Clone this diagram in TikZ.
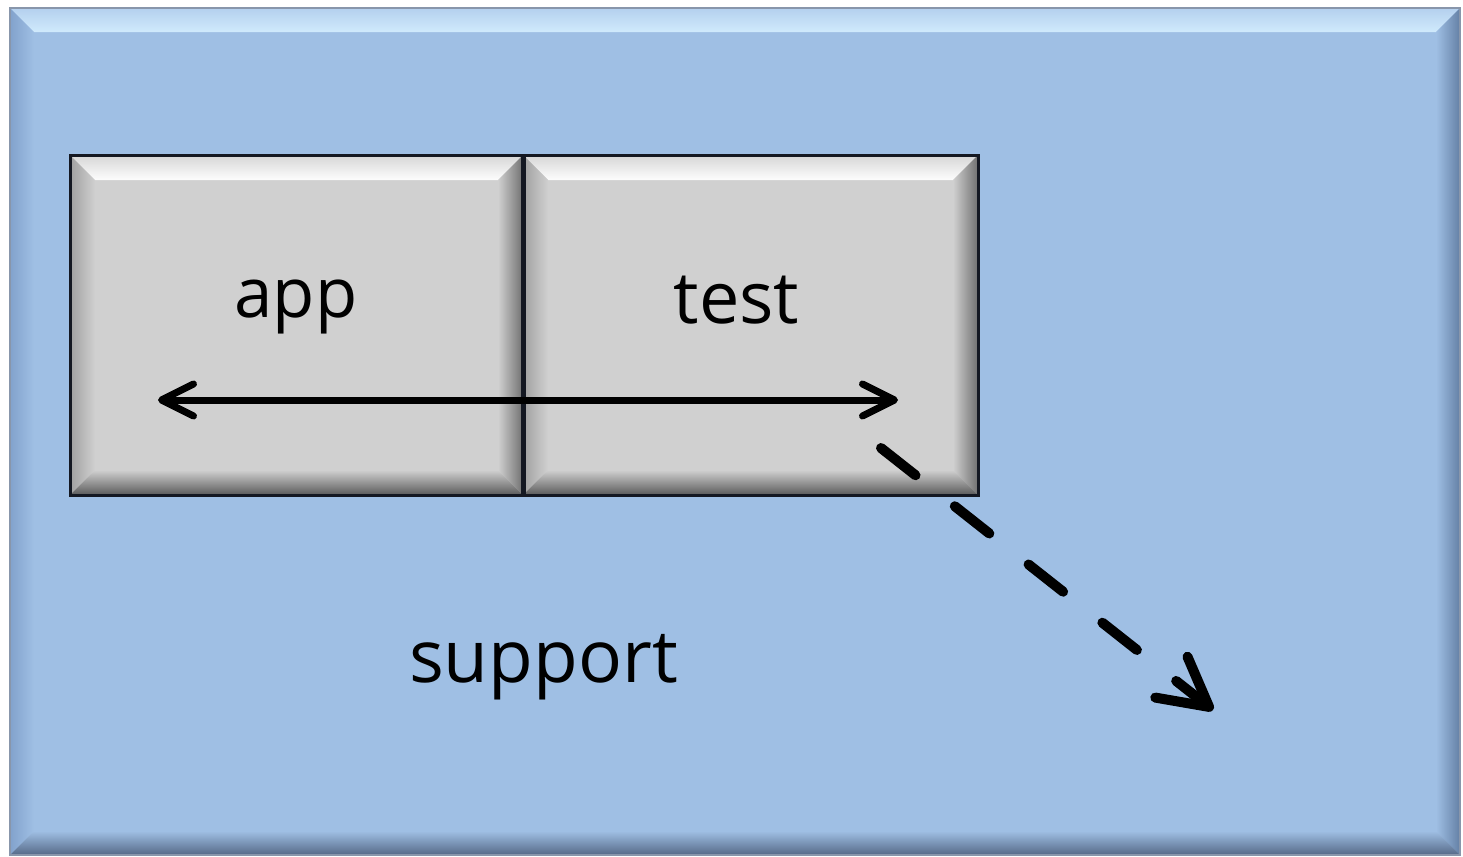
\documentclass[tikz,border=0pt]{standalone}
\usepackage{fontspec}
\setmainfont{Open Sans}
\usetikzlibrary{arrows.meta}
\definecolor{bBase}{RGB}{159,191,228}
\definecolor{bTopO}{RGB}{180,208,238}
\definecolor{bTopI}{RGB}{208,234,252}
\definecolor{bLeftO}{RGB}{130,162,204}
\definecolor{bRightO}{RGB}{100,128,165}
\definecolor{bBotO}{RGB}{85,105,135}
\definecolor{gBase}{RGB}{208,208,208}
\definecolor{gTopO}{RGB}{214,214,214}
\definecolor{gTopI}{RGB}{253,253,253}
\definecolor{gLeftO}{RGB}{160,160,160}
\definecolor{gRightO}{RGB}{112,112,112}
\definecolor{gBotO}{RGB}{90,90,90}
\definecolor{edge}{RGB}{20,24,34}
\newcommand\mybevel[6]{%
  \shade[top color=#6TopO,bottom color=#6TopI] (#1,#2) -- (#3,#2) -- ({#3-#5},{#2+#5}) -- ({#1+#5},{#2+#5}) -- cycle;
  \shade[left color=#6LeftO,right color=#6Base] (#1,#2) -- ({#1+#5},{#2+#5}) -- ({#1+#5},{#4-#5}) -- (#1,#4) -- cycle;
  \shade[left color=#6Base,right color=#6RightO] (#3,#2) -- ({#3-#5},{#2+#5}) -- ({#3-#5},{#4-#5}) -- (#3,#4) -- cycle;
  \shade[top color=#6Base,bottom color=#6BotO] (#1,#4) -- ({#1+#5},{#4-#5}) -- ({#3-#5},{#4-#5}) -- (#3,#4) -- cycle;
}
\tikzset{
  panel/.style={rectangle,draw=none,inner sep=0pt,outer sep=0pt},
  lbl/.style={inner sep=0pt,anchor=base,text=black},
  boxedge/.style={draw=edge,line width=1.5pt},
  solidarrow/.style={line width=3.5pt,line cap=round,{Straight Barb[length=16pt,width=16pt,round]}-{Straight Barb[length=16pt,width=16pt,round]}},
  dasharrow/.style={line width=5pt,line cap=round,dash pattern=on 22pt off 25pt,-{Straight Barb[length=24pt,width=26pt,round]}}
}
\begin{document}
\begin{tikzpicture}[x=0.5pt,y=-0.5pt]
\useasboundingbox (0,0) rectangle (1463,857);
\fill[white] (0,0) rectangle (1463,857);
% outer support panel
\node[panel,fill=bBase,minimum width=725pt,minimum height=423.5pt] (outer) at (735,431.5) {};
\mybevel{10}{8}{1460}{855}{24}{b}
\draw[bBotO!70!white,line width=0.8pt] (outer.north west) rectangle (outer.south east);
% app and test keys
\node[panel,fill=gBase,minimum width=226.5pt,minimum height=170pt] (appbox) at (296.5,325) {};
\node[panel,fill=gBase,minimum width=227.5pt,minimum height=170pt] (testbox) at (750.5,325) {};
\mybevel{70}{155}{523}{495}{25}{g}
\mybevel{523}{155}{978}{495}{25}{g}
\draw[boxedge] (appbox.north west) rectangle (appbox.south east);
\draw[boxedge] (testbox.north west) rectangle (testbox.south east);
\draw[draw=edge,line width=2.5pt] (appbox.north east) -- (appbox.south east);
% labels
\node[lbl,font=\fontsize{34.5}{40}\selectfont] (app) at (296,317) {app};
\node[lbl,font=\fontsize{36}{42}\selectfont] (test) at (736.5,323) {test};
\node[lbl,font=\fontsize{36.5}{42}\selectfont] (support) at (543.5,682) {support};
% arrows
\coordinate (aL) at (158,400);
\coordinate (tR) at (898,400);
\draw[solidarrow] (aL) -- (tR);
\coordinate (dS) at (881,448);
\coordinate (dE) at (1213,710);
\draw[dasharrow] (dS) -- (dE);
\end{tikzpicture}
\end{document}
